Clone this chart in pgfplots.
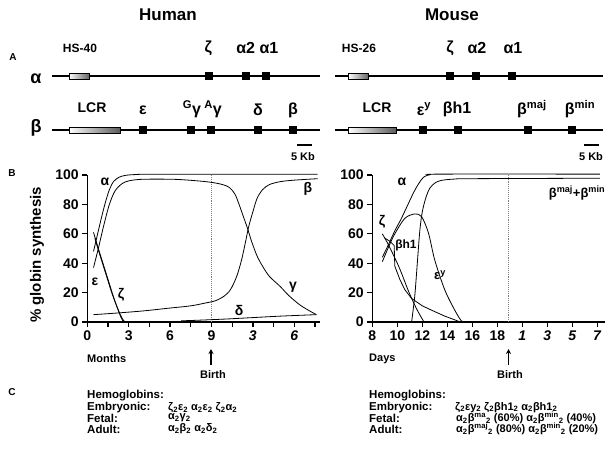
\documentclass[border=0pt]{standalone}
\usepackage{fontspec}
\setmainfont{Liberation Sans}
\usepackage{pgfplots}
\pgfplotsset{compat=1.18}
\usetikzlibrary{arrows.meta}
\newcommand{\B}[1]{\bfseries\fontsize{#1}{#1}\selectfont}
\begin{document}
\begin{tikzpicture}
\path[use as bounding box] (0,0) rectangle (613pt,451pt);
\pgfplotsset{panelB/.style={
  scale only axis, width=232.5pt, height=147pt, anchor=south west,
  ymin=0, ymax=100, ytick={0,20,40,60,80,100},
  axis x line*=bottom, axis y line*=left,
  axis line style={line width=1.6pt},
  tick align=outside, major tick length=5pt,
  tick style={line width=1.3pt, black},
  ticklabel style={font=\B{14}},
  /pgf/number format/assume math mode=true,
  clip=false,
}, crv/.style={black, line width=0.8pt, no marks, smooth}}
% ---------- Human panel B ----------
\begin{axis}[panelB, at={(87.3pt,129pt)}, xmin=0, xmax=16.85,
  xtick={0,1.5,3,4.5,6,7.5,9,10.5,12,13.5,15,16.5},
  xticklabels={0,,3,,6,,9,,\textit{3},,\textit{6},}]
\addplot[densely dotted, gray, line width=0.9pt] coordinates {(9,0) (9,100)};
% alpha
\addplot[crv] coordinates {(0.45,48) (0.7,58) (1.0,70) (1.3,81) (1.6,90) (1.9,95.5) (2.3,98.5) (2.8,99.8) (3.5,100.3) (5,100.5) (16.7,100.5)};
% gamma
\addplot[crv] coordinates {(0.45,37) (0.8,50) (1.2,66) (1.6,80) (2.0,89) (2.5,94) (3,96) (3.8,97) (5,97.2) (6.5,97) (8,96) (9,95) (9.8,93.5) (10.3,91.5) (10.7,87) (11.0,80) (11.3,72) (11.6,64) (11.9,55) (12.3,45) (12.7,38) (13.2,31) (14,24) (14.6,18) (15.5,11) (16.6,5)};
% beta
\addplot[crv] coordinates {(0.45,5) (2,6) (4,7.5) (6,9.5) (7.5,11) (8.5,12.8) (9.3,14.5) (9.9,17.5) (10.3,21) (10.6,26) (10.9,33) (11.2,43) (11.5,56) (11.7,65) (12.0,75) (12.3,84) (12.7,90) (13.2,93.5) (14,95.5) (15,96.5) (16.7,97.5)};
% epsilon
\addplot[crv] coordinates {(0.45,61) (0.7,53) (1.0,44) (1.3,35) (1.6,26) (1.9,17) (2.2,9) (2.45,3) (2.6,0.5)};
% zeta
\addplot[crv] coordinates {(0.55,57) (0.8,49) (1.1,40) (1.4,31) (1.7,22) (2.0,14) (2.3,7) (2.55,2) (2.7,0.5)};
% delta
\addplot[crv] coordinates {(6.8,0.8) (8,1.2) (10,2) (12,3) (14,4) (16.6,5)};
\end{axis}
% ---------- Mouse panel B ----------
\begin{axis}[panelB, at={(372.3pt,129pt)}, xmin=8, xmax=26.6,
  xtick={8,10,12,14,16,18,20,22,24,26},
  xticklabels={8,10,12,14,16,18,\textit{1},\textit{3},\textit{5},\textit{7}}]
\addplot[densely dotted, gray, line width=0.9pt] coordinates {(18.88,0) (18.88,100)};
% alpha
\addplot[crv] coordinates {(8.8,44) (9.2,51) (9.8,62) (10.3,70) (10.8,79) (11.3,88) (11.7,94) (12.1,98.5) (12.6,100.2) (13.5,100.6) (26.2,100.6)};
% epsilon y
\addplot[crv] coordinates {(8.8,41) (9.3,51) (9.8,60) (10.6,70.5) (11.4,73.5) (11.95,71.6) (12.5,60.3) (13,42) (13.8,21.8) (14.6,8) (15.1,1) (15.3,0.3)};
% beta maj + min
\addplot[crv] coordinates {(11.15,0.3) (11.4,18) (11.6,40) (11.8,62) (12.0,75) (12.3,85) (12.6,91) (13.0,94.5) (13.5,96.3) (14.5,97.2) (16,97.5) (26.2,97.8)};
% zeta
\addplot[crv] coordinates {(8.8,60) (9.2,54) (9.55,48) (10,40) (10.35,33) (10.8,23) (11.15,16) (11.6,8) (12.1,0.5)};
% beta h1
\addplot[black, line width=0.8pt, no marks] coordinates {(9.0,57) (9.4,55) (9.75,52) (9.8,38) (10.2,29) (10.6,22) (11.15,16) (12,11) (12.75,8) (13.8,4) (14.9,0.5)};
\end{axis}
% ---------- overlay: panel A, labels, panel C ----------
\begin{axis}[at={(0pt,0pt)}, anchor=south west, scale only axis,
  width=613pt, height=451pt, xmin=0, xmax=613, ymin=0, ymax=451,
  y dir=reverse, hide axis, clip=false]
% titles
\node[font=\B{17}] at (axis cs:168,15) {Human};
\node[font=\B{17}] at (axis cs:452,15) {Mouse};
\node[font=\B{10}] at (axis cs:13,57) {A};
\node[font=\B{10}] at (axis cs:12,173) {B};
\node[font=\B{10}] at (axis cs:12,392) {C};
% row labels
\node[font=\B{18}] at (axis cs:36,79) {α};
\node[font=\B{18}] at (axis cs:36,128) {β};
% chromosome lines
\addplot[line width=1.6pt, no marks] coordinates {(51.7,76) (320,76)};
\addplot[line width=1.6pt, no marks] coordinates {(335,76) (603,76)};
\addplot[line width=1.6pt, no marks] coordinates {(51.7,130) (320,130)};
\addplot[line width=1.6pt, no marks] coordinates {(335,130) (603,130)};
% LCR / HS boxes
\draw[line width=0.8pt, left color=white, right color=black!60] (axis cs:69,73) rectangle (axis cs:89,79);
\draw[line width=0.8pt, left color=white, right color=black!60] (axis cs:348.3,73) rectangle (axis cs:368.3,79);
\draw[line width=0.8pt, left color=white, right color=black!65] (axis cs:69,127) rectangle (axis cs:120.7,133);
\draw[line width=0.8pt, left color=white, right color=black!65] (axis cs:348.3,127) rectangle (axis cs:396.7,133);
% genes
\addplot[only marks, mark=square*, mark size=3.6pt] coordinates {(208.3,76) (245.7,76) (265.7,76) (450,76) (475.7,76) (511.7,76)};
\addplot[only marks, mark=square*, mark size=3.6pt] coordinates {(143,130) (190.7,130) (211,130) (257.7,130) (292.7,130) (422.3,130) (457.7,130) (527.7,130) (571.7,130)};
% gene labels
\node[font=\B{12}] at (axis cs:80,48) {HS-40};
\node[font=\B{12}] at (axis cs:359,48) {HS-26};
\node[font=\B{16}] at (axis cs:208.3,48) {ζ};
\node[font=\B{16}] at (axis cs:245.7,48) {α2};
\node[font=\B{16}] at (axis cs:269,48) {α1};
\node[font=\B{16}] at (axis cs:450,48) {ζ};
\node[font=\B{16}] at (axis cs:477,48) {α2};
\node[font=\B{16}] at (axis cs:513,48) {α1};
\node[font=\B{14}] at (axis cs:92,108) {LCR};
\node[font=\B{16}] at (axis cs:143,110) {ε};
\node[font=\B{16}] at (axis cs:192,109) {\textsuperscript{G}γ};
\node[font=\B{16}] at (axis cs:213,109) {\textsuperscript{A}γ};
\node[font=\B{16}] at (axis cs:258,110) {δ};
\node[font=\B{16}] at (axis cs:293,110) {β};
\node[font=\B{14}] at (axis cs:377,108) {LCR};
\node[font=\B{16}] at (axis cs:424,109) {ε\textsuperscript{y}};
\node[font=\B{16}] at (axis cs:457,109) {βh1};
\node[font=\B{16}] at (axis cs:532,109) {β\textsuperscript{maj}};
\node[font=\B{16}] at (axis cs:580,109) {β\textsuperscript{min}};
% scale bars
\addplot[line width=1.2pt, no marks] coordinates {(297,145) (312,145)};
\addplot[line width=1.2pt, no marks] coordinates {(584,145) (599,145)};
\node[font=\B{11}] at (axis cs:303,157) {5 Kb};
\node[font=\B{11}] at (axis cs:591,157) {5 Kb};
% y label
\node[font=\B{15}, rotate=90] at (axis cs:37,255) {\% globin synthesis};
% curve labels human
\node[font=\B{14}] at (axis cs:105,182) {α};
\node[font=\B{14}] at (axis cs:95,282) {ε};
\node[font=\B{14}] at (axis cs:121,295) {ζ};
\node[font=\B{14}] at (axis cs:293,287) {γ};
\node[font=\B{14}] at (axis cs:239,310) {δ};
\node[font=\B{14}] at (axis cs:308,189) {β};
% curve labels mouse
\node[font=\B{14}] at (axis cs:402,182) {α};
\node[font=\B{14}] at (axis cs:382,222) {ζ};
\node[font=\B{12}] at (axis cs:406,245) {βh1};
\node[font=\B{13}] at (axis cs:440,275) {ε\textsuperscript{y}};
\node[font=\B{13}] at (axis cs:577,193) {β\textsuperscript{maj}+β\textsuperscript{min}};
% axis captions, birth
\node[font=\B{11}, anchor=west, inner sep=0pt] at (axis cs:87,359) {Months};
\node[font=\B{11}, anchor=west, inner sep=0pt] at (axis cs:369,359) {Days};
\draw[line width=1.3pt, -{Stealth[length=5pt,width=5pt]}] (axis cs:211,365) -- (axis cs:211,349);
\draw[line width=1.3pt, -{Stealth[length=5pt,width=5pt]}] (axis cs:508.5,365) -- (axis cs:508.5,349);
\node[font=\B{11}] at (axis cs:213,375) {Birth};
\node[font=\B{11}] at (axis cs:510,375) {Birth};
% panel C human
\node[font=\B{11.5}, anchor=west, inner sep=0pt] at (axis cs:87,396) {Hemoglobins:};
\node[font=\B{11.5}, anchor=west, inner sep=0pt] at (axis cs:87,407.5) {Embryonic:};
\node[font=\B{11.5}, anchor=west, inner sep=0pt] at (axis cs:87,418) {Fetal:};
\node[font=\B{11.5}, anchor=west, inner sep=0pt] at (axis cs:87,429) {Adult:};
\node[font=\B{11}, anchor=west, inner sep=0pt] at (axis cs:168,407.5) {ζ\textsubscript{2}ε\textsubscript{2} α\textsubscript{2}ε\textsubscript{2} ζ\textsubscript{2}α\textsubscript{2}};
\node[font=\B{11}, anchor=west, inner sep=0pt] at (axis cs:168,418) {α\textsubscript{2}γ\textsubscript{2}};
\node[font=\B{11}, anchor=west, inner sep=0pt] at (axis cs:168,429) {α\textsubscript{2}β\textsubscript{2} α\textsubscript{2}δ\textsubscript{2}};
% panel C mouse
\node[font=\B{11.5}, anchor=west, inner sep=0pt] at (axis cs:369,396) {Hemoglobins:};
\node[font=\B{11.5}, anchor=west, inner sep=0pt] at (axis cs:369,407.5) {Embryonic:};
\node[font=\B{11.5}, anchor=west, inner sep=0pt] at (axis cs:369,418) {Fetal:};
\node[font=\B{11.5}, anchor=west, inner sep=0pt] at (axis cs:369,429) {Adult:};
\node[font=\B{11}, anchor=west, inner sep=0pt] at (axis cs:455,407.5) {ζ\textsubscript{2}εy\textsubscript{2} ζ\textsubscript{2}βh1\textsubscript{2} α\textsubscript{2}βh1\textsubscript{2}};
\node[font=\B{11}, anchor=west, inner sep=0pt] at (axis cs:456,418) {α\textsubscript{2}β\textsuperscript{ma}\textsubscript{2} (60\%) α\textsubscript{2}β\textsuperscript{min}\textsubscript{2} (40\%)};
\node[font=\B{11}, anchor=west, inner sep=0pt] at (axis cs:456,429) {α\textsubscript{2}β\textsuperscript{maj}\textsubscript{2} (80\%) α\textsubscript{2}β\textsuperscript{min}\textsubscript{2} (20\%)};
\end{axis}
\end{tikzpicture}
\end{document}
